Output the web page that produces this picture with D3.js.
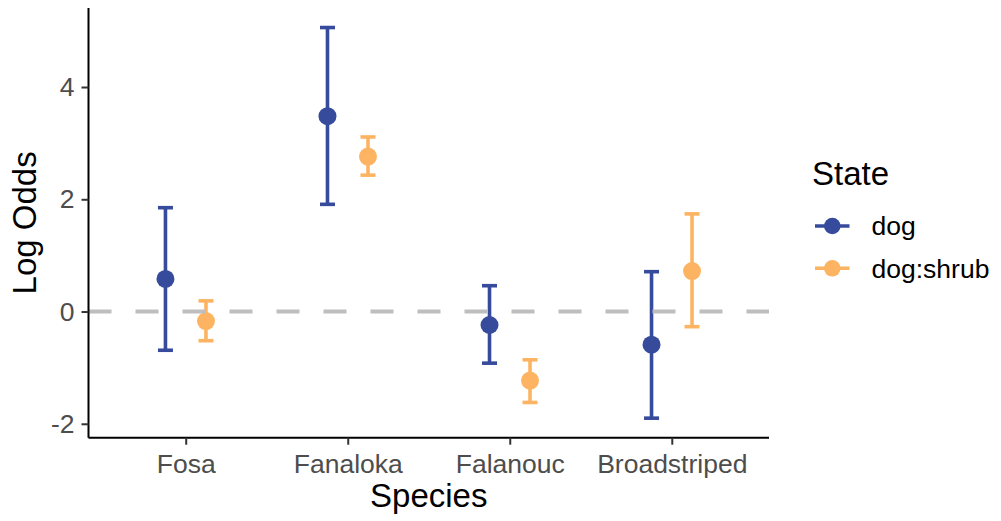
<!DOCTYPE html>
<html>
<head>
<meta charset="utf-8">
<script src="https://cdn.jsdelivr.net/npm/d3@7"></script>
<style>
  html, body { margin: 0; padding: 0; background: #fff; }
  svg { display: block; font-family: "Liberation Sans", Arial, sans-serif; }
</style>
</head>
<body>
<svg id="chart" width="1001" height="521"></svg>
<script>
// Species along the x axis
const species = ["Fosa", "Fanaloka", "Falanouc", "Broadstriped"];
// Model terms (legend)
const states = ["dog", "dog:shrub"];
const stateColors = ["#374B9C", "#FDB462"];

// Log-odds estimates and interval bounds, one entry per species
const dogEstimate   = [0.58, 3.48, -0.24, -0.59];
const dogLower      = [-0.69, 1.91, -0.92, -1.90];
const dogUpper      = [1.85, 5.06, 0.46, 0.71];
const shrubEstimate = [-0.17, 2.76, -1.23, 0.72];
const shrubLower    = [-0.52, 2.43, -1.62, -0.27];
const shrubUpper    = [0.19, 3.11, -0.86, 1.74];

const yTicks = [-2, 0, 2, 4];

const rows = [];
species.forEach((sp, i) => {
  rows.push({ species: sp, state: states[0], est: dogEstimate[i], lo: dogLower[i], hi: dogUpper[i] });
  rows.push({ species: sp, state: states[1], est: shrubEstimate[i], lo: shrubLower[i], hi: shrubUpper[i] });
});

const svg = d3.select("#chart");
const panel = { left: 88.5, right: 769, top: 8, bottom: 437.7 };

const x = d3.scalePoint().domain(species).range([panel.left, panel.right]).padding(0.6);
const dodge = x.step() * 0.125;
const offset = d3.scaleOrdinal().domain(states).range([-dodge, dodge]);
const color = d3.scaleOrdinal().domain(states).range(stateColors);

const lo = d3.min(rows, d => d.lo), hi = d3.max(rows, d => d.hi);
const pad = (hi - lo) * 0.05;
const y = d3.scaleLinear().domain([lo - pad, hi + pad]).range([panel.bottom, panel.top]);

// error bars
const bars = svg.append("g").selectAll("g").data(rows).join("g")
  .attr("stroke", d => color(d.state))
  .attr("stroke-width", 3.6);
bars.append("line")
  .attr("x1", d => x(d.species) + offset(d.state)).attr("x2", d => x(d.species) + offset(d.state))
  .attr("y1", d => y(d.lo)).attr("y2", d => y(d.hi));
bars.append("line")
  .attr("x1", d => x(d.species) + offset(d.state) - 7.5).attr("x2", d => x(d.species) + offset(d.state) + 7.5)
  .attr("y1", d => y(d.hi)).attr("y2", d => y(d.hi));
bars.append("line")
  .attr("x1", d => x(d.species) + offset(d.state) - 7.5).attr("x2", d => x(d.species) + offset(d.state) + 7.5)
  .attr("y1", d => y(d.lo)).attr("y2", d => y(d.lo));

// point estimates
svg.append("g").selectAll("circle").data(rows).join("circle")
  .attr("cx", d => x(d.species) + offset(d.state))
  .attr("cy", d => y(d.est))
  .attr("r", 9)
  .attr("fill", d => color(d.state));

// reference line at zero
svg.append("line")
  .attr("x1", panel.left).attr("x2", panel.right)
  .attr("y1", y(0)).attr("y2", y(0))
  .attr("stroke", "#BEBEBE").attr("stroke-width", 4)
  .attr("stroke-dasharray", "23 24");

// axes
const yAxis = svg.append("g").attr("transform", `translate(${panel.left},0)`)
  .call(d3.axisLeft(y).tickValues(yTicks).tickSize(7).tickPadding(7).tickFormat(d => String(d)));
const xAxis = svg.append("g").attr("transform", `translate(0,${panel.bottom})`)
  .call(d3.axisBottom(x).tickSize(7).tickPadding(9));
[yAxis, xAxis].forEach(a => {
  a.select(".domain").attr("stroke", "#000").attr("stroke-width", 2);
  a.selectAll(".tick line").attr("stroke", "#333").attr("stroke-width", 2);
  a.selectAll(".tick text").attr("fill", "#4D4D4D").style("font-size", "26.5px")
    .style("font-family", "Liberation Sans, Arial, sans-serif");
});
yAxis.select(".domain").attr("d", `M0,${panel.top}V${panel.bottom}`);
xAxis.select(".domain").attr("d", `M${panel.left},0H${panel.right}`);

// axis titles
svg.append("text")
  .attr("x", (panel.left + panel.right) / 2).attr("y", 507)
  .attr("text-anchor", "middle").style("font-size", "33px").attr("fill", "#000")
  .text("Species");
svg.append("text")
  .attr("transform", `translate(36,${(panel.top + panel.bottom) / 2}) rotate(-90)`)
  .attr("text-anchor", "middle").style("font-size", "33px").attr("fill", "#000")
  .text("Log Odds");

// legend
const legend = svg.append("g");
legend.append("text").attr("x", 812).attr("y", 185)
  .style("font-size", "33px").attr("fill", "#000").text("State");
const keys = legend.selectAll("g.key").data(states).join("g")
  .attr("class", "key")
  .attr("transform", (d, i) => `translate(0,${226 + i * 42.3})`);
keys.append("line").attr("x1", 815).attr("x2", 849.5).attr("y1", 0).attr("y2", 0)
  .attr("stroke", d => color(d)).attr("stroke-width", 3.6);
keys.append("circle").attr("cx", 832.3).attr("cy", 0).attr("r", 8.3).attr("fill", d => color(d));
keys.append("text").attr("x", 871.5).attr("y", 0).attr("dy", "0.35em")
  .style("font-size", "26.5px").attr("fill", "#000").text(d => d);
</script>
</body>
</html>
